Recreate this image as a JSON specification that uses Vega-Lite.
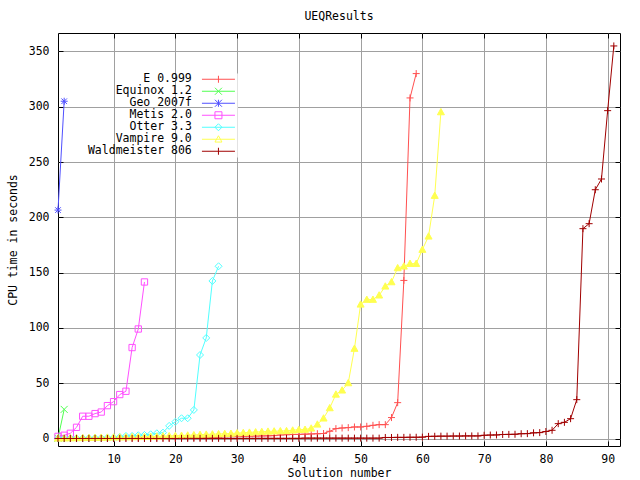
{
  "$schema": "https://vega.github.io/schema/vega-lite/v6.json",
  "width": 562,
  "height": 413,
  "autosize": "none",
  "padding": {"left": 58, "top": 33, "right": 20, "bottom": 34},
  "background": "white",
  "config": {"view": {"stroke": "black", "strokeWidth": 1}, "font": "DejaVu Sans Mono"},
  "title": {"text": "UEQResults", "font": "DejaVu Sans Mono", "fontSize": 11.5, "fontWeight": "normal", "anchor": "middle", "offset": 10, "color": "black"},
  "datasets": {
    "all": [
      {"s":"E 0.999","n":1,"v":0.2},{"s":"E 0.999","n":2,"v":0.2},{"s":"E 0.999","n":3,"v":0.3},{"s":"E 0.999","n":4,"v":0.3},{"s":"E 0.999","n":5,"v":0.3},{"s":"E 0.999","n":6,"v":0.4},{"s":"E 0.999","n":7,"v":0.4},{"s":"E 0.999","n":8,"v":0.4},{"s":"E 0.999","n":9,"v":0.5},{"s":"E 0.999","n":10,"v":0.5},
      {"s":"E 0.999","n":11,"v":0.5},{"s":"E 0.999","n":12,"v":0.6},{"s":"E 0.999","n":13,"v":0.6},{"s":"E 0.999","n":14,"v":0.6},{"s":"E 0.999","n":15,"v":0.7},{"s":"E 0.999","n":16,"v":0.7},{"s":"E 0.999","n":17,"v":0.7},{"s":"E 0.999","n":18,"v":0.8},{"s":"E 0.999","n":19,"v":0.8},{"s":"E 0.999","n":20,"v":0.8},
      {"s":"E 0.999","n":21,"v":0.9},{"s":"E 0.999","n":22,"v":0.9},{"s":"E 0.999","n":23,"v":1.0},{"s":"E 0.999","n":24,"v":1.0},{"s":"E 0.999","n":25,"v":1.1},{"s":"E 0.999","n":26,"v":1.2},{"s":"E 0.999","n":27,"v":1.4},{"s":"E 0.999","n":28,"v":1.8},{"s":"E 0.999","n":29,"v":1.9},{"s":"E 0.999","n":30,"v":2.0},
      {"s":"E 0.999","n":31,"v":2.1},{"s":"E 0.999","n":32,"v":2.2},{"s":"E 0.999","n":33,"v":2.3},{"s":"E 0.999","n":34,"v":2.4},{"s":"E 0.999","n":35,"v":2.5},{"s":"E 0.999","n":36,"v":2.7},{"s":"E 0.999","n":37,"v":3.3},{"s":"E 0.999","n":38,"v":3.5},{"s":"E 0.999","n":39,"v":3.7},{"s":"E 0.999","n":40,"v":3.8},
      {"s":"E 0.999","n":41,"v":4.0},{"s":"E 0.999","n":42,"v":4.2},{"s":"E 0.999","n":43,"v":4.4},{"s":"E 0.999","n":44,"v":4.6},{"s":"E 0.999","n":45,"v":6.6},{"s":"E 0.999","n":46,"v":9.0},{"s":"E 0.999","n":47,"v":9.6},{"s":"E 0.999","n":48,"v":9.9},{"s":"E 0.999","n":49,"v":10.5},{"s":"E 0.999","n":50,"v":10.5},
      {"s":"E 0.999","n":51,"v":11.1},{"s":"E 0.999","n":52,"v":12.0},{"s":"E 0.999","n":53,"v":12.6},{"s":"E 0.999","n":54,"v":12.6},{"s":"E 0.999","n":55,"v":19.0},{"s":"E 0.999","n":56,"v":32.5},{"s":"E 0.999","n":57,"v":143},{"s":"E 0.999","n":58,"v":308},{"s":"E 0.999","n":59,"v":330},
      {"s":"Equinox 1.2","n":1,"v":0.3},{"s":"Equinox 1.2","n":2,"v":26.4},
      {"s":"Geo 2007f","n":1,"v":206.6},{"s":"Geo 2007f","n":2,"v":305},
      {"s":"Metis 2.0","n":1,"v":2},{"s":"Metis 2.0","n":2,"v":3},{"s":"Metis 2.0","n":3,"v":4.8},{"s":"Metis 2.0","n":4,"v":10.2},{"s":"Metis 2.0","n":5,"v":20.2},{"s":"Metis 2.0","n":6,"v":20.2},{"s":"Metis 2.0","n":7,"v":22.6},{"s":"Metis 2.0","n":8,"v":24},{"s":"Metis 2.0","n":9,"v":29.8},{"s":"Metis 2.0","n":10,"v":33.4},{"s":"Metis 2.0","n":11,"v":39.8},{"s":"Metis 2.0","n":12,"v":42.8},{"s":"Metis 2.0","n":13,"v":82.3},{"s":"Metis 2.0","n":14,"v":99.1},{"s":"Metis 2.0","n":15,"v":141.6},
      {"s":"Otter 3.3","n":1,"v":0.2},{"s":"Otter 3.3","n":2,"v":0.2},{"s":"Otter 3.3","n":3,"v":0.3},{"s":"Otter 3.3","n":4,"v":0.3},{"s":"Otter 3.3","n":5,"v":0.4},{"s":"Otter 3.3","n":6,"v":0.5},{"s":"Otter 3.3","n":7,"v":0.6},{"s":"Otter 3.3","n":8,"v":0.7},{"s":"Otter 3.3","n":9,"v":0.9},{"s":"Otter 3.3","n":10,"v":0.9},
      {"s":"Otter 3.3","n":11,"v":1.5},{"s":"Otter 3.3","n":12,"v":2.4},{"s":"Otter 3.3","n":13,"v":2.4},{"s":"Otter 3.3","n":14,"v":3.0},{"s":"Otter 3.3","n":15,"v":3.3},{"s":"Otter 3.3","n":16,"v":3.9},{"s":"Otter 3.3","n":17,"v":4.8},{"s":"Otter 3.3","n":18,"v":5.4},{"s":"Otter 3.3","n":19,"v":11.5},{"s":"Otter 3.3","n":20,"v":15.2},
      {"s":"Otter 3.3","n":21,"v":18.4},{"s":"Otter 3.3","n":22,"v":18.4},{"s":"Otter 3.3","n":23,"v":25.9},{"s":"Otter 3.3","n":24,"v":75.6},{"s":"Otter 3.3","n":25,"v":91},{"s":"Otter 3.3","n":26,"v":142.5},{"s":"Otter 3.3","n":27,"v":155.8},
      {"s":"Vampire 9.0","n":1,"v":0.3},{"s":"Vampire 9.0","n":2,"v":0.4},{"s":"Vampire 9.0","n":3,"v":0.5},{"s":"Vampire 9.0","n":4,"v":0.6},{"s":"Vampire 9.0","n":5,"v":0.7},{"s":"Vampire 9.0","n":6,"v":0.8},{"s":"Vampire 9.0","n":7,"v":0.9},{"s":"Vampire 9.0","n":8,"v":1.0},{"s":"Vampire 9.0","n":9,"v":1.1},{"s":"Vampire 9.0","n":10,"v":1.2},
      {"s":"Vampire 9.0","n":11,"v":1.3},{"s":"Vampire 9.0","n":12,"v":1.4},{"s":"Vampire 9.0","n":13,"v":1.5},{"s":"Vampire 9.0","n":14,"v":1.6},{"s":"Vampire 9.0","n":15,"v":1.7},{"s":"Vampire 9.0","n":16,"v":1.8},{"s":"Vampire 9.0","n":17,"v":2.0},{"s":"Vampire 9.0","n":18,"v":2.2},{"s":"Vampire 9.0","n":19,"v":2.4},{"s":"Vampire 9.0","n":20,"v":2.6},
      {"s":"Vampire 9.0","n":21,"v":2.8},{"s":"Vampire 9.0","n":22,"v":3.0},{"s":"Vampire 9.0","n":23,"v":3.3},{"s":"Vampire 9.0","n":24,"v":3.6},{"s":"Vampire 9.0","n":25,"v":3.8},{"s":"Vampire 9.0","n":26,"v":4.0},{"s":"Vampire 9.0","n":27,"v":4.2},{"s":"Vampire 9.0","n":28,"v":4.4},{"s":"Vampire 9.0","n":29,"v":4.6},{"s":"Vampire 9.0","n":30,"v":5.0},
      {"s":"Vampire 9.0","n":31,"v":5.3},{"s":"Vampire 9.0","n":32,"v":5.6},{"s":"Vampire 9.0","n":33,"v":5.9},{"s":"Vampire 9.0","n":34,"v":6.2},{"s":"Vampire 9.0","n":35,"v":6.5},{"s":"Vampire 9.0","n":36,"v":6.7},{"s":"Vampire 9.0","n":37,"v":6.9},{"s":"Vampire 9.0","n":38,"v":7.0},{"s":"Vampire 9.0","n":39,"v":7.5},{"s":"Vampire 9.0","n":40,"v":8.1},
      {"s":"Vampire 9.0","n":41,"v":8.2},{"s":"Vampire 9.0","n":42,"v":9.3},{"s":"Vampire 9.0","n":43,"v":12.9},{"s":"Vampire 9.0","n":44,"v":18.4},{"s":"Vampire 9.0","n":45,"v":27.7},{"s":"Vampire 9.0","n":46,"v":40},{"s":"Vampire 9.0","n":47,"v":43.7},{"s":"Vampire 9.0","n":48,"v":50.3},{"s":"Vampire 9.0","n":49,"v":81.4},{"s":"Vampire 9.0","n":50,"v":121.4},
      {"s":"Vampire 9.0","n":51,"v":125.7},{"s":"Vampire 9.0","n":52,"v":125.7},{"s":"Vampire 9.0","n":53,"v":129.6},{"s":"Vampire 9.0","n":54,"v":137.7},{"s":"Vampire 9.0","n":55,"v":141.6},{"s":"Vampire 9.0","n":56,"v":154.3},{"s":"Vampire 9.0","n":57,"v":155.8},{"s":"Vampire 9.0","n":58,"v":158.2},{"s":"Vampire 9.0","n":59,"v":158.2},{"s":"Vampire 9.0","n":60,"v":170.9},
      {"s":"Vampire 9.0","n":61,"v":182.9},{"s":"Vampire 9.0","n":62,"v":219.7},{"s":"Vampire 9.0","n":63,"v":295.3},
      {"s":"Waldmeister 806","n":1,"v":0.1},{"s":"Waldmeister 806","n":2,"v":0.1},{"s":"Waldmeister 806","n":3,"v":0.1},{"s":"Waldmeister 806","n":4,"v":0.1},{"s":"Waldmeister 806","n":5,"v":0.1},{"s":"Waldmeister 806","n":6,"v":0.1},{"s":"Waldmeister 806","n":7,"v":0.1},{"s":"Waldmeister 806","n":8,"v":0.1},{"s":"Waldmeister 806","n":9,"v":0.1},{"s":"Waldmeister 806","n":10,"v":0.1},
      {"s":"Waldmeister 806","n":11,"v":0.1},{"s":"Waldmeister 806","n":12,"v":0.1},{"s":"Waldmeister 806","n":13,"v":0.1},{"s":"Waldmeister 806","n":14,"v":0.1},{"s":"Waldmeister 806","n":15,"v":0.1},{"s":"Waldmeister 806","n":16,"v":0.1},{"s":"Waldmeister 806","n":17,"v":0.1},{"s":"Waldmeister 806","n":18,"v":0.1},{"s":"Waldmeister 806","n":19,"v":0.1},{"s":"Waldmeister 806","n":20,"v":0.1},
      {"s":"Waldmeister 806","n":21,"v":0.2},{"s":"Waldmeister 806","n":22,"v":0.2},{"s":"Waldmeister 806","n":23,"v":0.2},{"s":"Waldmeister 806","n":24,"v":0.2},{"s":"Waldmeister 806","n":25,"v":0.2},{"s":"Waldmeister 806","n":26,"v":0.2},{"s":"Waldmeister 806","n":27,"v":0.2},{"s":"Waldmeister 806","n":28,"v":0.2},{"s":"Waldmeister 806","n":29,"v":0.2},{"s":"Waldmeister 806","n":30,"v":0.2},
      {"s":"Waldmeister 806","n":31,"v":0.2},{"s":"Waldmeister 806","n":32,"v":0.2},{"s":"Waldmeister 806","n":33,"v":0.2},{"s":"Waldmeister 806","n":34,"v":0.2},{"s":"Waldmeister 806","n":35,"v":0.2},{"s":"Waldmeister 806","n":36,"v":0.2},{"s":"Waldmeister 806","n":37,"v":0.2},{"s":"Waldmeister 806","n":38,"v":0.2},{"s":"Waldmeister 806","n":39,"v":0.2},{"s":"Waldmeister 806","n":40,"v":0.2},
      {"s":"Waldmeister 806","n":41,"v":0.4},{"s":"Waldmeister 806","n":42,"v":0.4},{"s":"Waldmeister 806","n":43,"v":0.4},{"s":"Waldmeister 806","n":44,"v":0.4},{"s":"Waldmeister 806","n":45,"v":0.4},{"s":"Waldmeister 806","n":46,"v":0.4},{"s":"Waldmeister 806","n":47,"v":0.4},{"s":"Waldmeister 806","n":48,"v":0.4},{"s":"Waldmeister 806","n":49,"v":0.4},{"s":"Waldmeister 806","n":50,"v":0.4},
      {"s":"Waldmeister 806","n":51,"v":0.4},{"s":"Waldmeister 806","n":52,"v":0.4},{"s":"Waldmeister 806","n":53,"v":0.4},{"s":"Waldmeister 806","n":54,"v":1.0},{"s":"Waldmeister 806","n":55,"v":1.0},{"s":"Waldmeister 806","n":56,"v":1.1},{"s":"Waldmeister 806","n":57,"v":1.1},{"s":"Waldmeister 806","n":58,"v":1.2},{"s":"Waldmeister 806","n":59,"v":1.2},{"s":"Waldmeister 806","n":60,"v":1.3},
      {"s":"Waldmeister 806","n":61,"v":2.0},{"s":"Waldmeister 806","n":62,"v":2.1},{"s":"Waldmeister 806","n":63,"v":2.2},{"s":"Waldmeister 806","n":64,"v":2.2},{"s":"Waldmeister 806","n":65,"v":2.3},{"s":"Waldmeister 806","n":66,"v":2.3},{"s":"Waldmeister 806","n":67,"v":2.4},{"s":"Waldmeister 806","n":68,"v":2.4},{"s":"Waldmeister 806","n":69,"v":2.4},{"s":"Waldmeister 806","n":70,"v":3.0},
      {"s":"Waldmeister 806","n":71,"v":3.2},{"s":"Waldmeister 806","n":72,"v":3.3},{"s":"Waldmeister 806","n":73,"v":3.7},{"s":"Waldmeister 806","n":74,"v":3.8},{"s":"Waldmeister 806","n":75,"v":3.9},{"s":"Waldmeister 806","n":76,"v":4.4},{"s":"Waldmeister 806","n":77,"v":4.5},{"s":"Waldmeister 806","n":78,"v":5.2},{"s":"Waldmeister 806","n":79,"v":5.4},{"s":"Waldmeister 806","n":80,"v":6.4},
      {"s":"Waldmeister 806","n":81,"v":7.5},{"s":"Waldmeister 806","n":82,"v":13.5},{"s":"Waldmeister 806","n":83,"v":14.7},{"s":"Waldmeister 806","n":84,"v":18},{"s":"Waldmeister 806","n":85,"v":35.2},{"s":"Waldmeister 806","n":86,"v":189.8},{"s":"Waldmeister 806","n":87,"v":194.3},{"s":"Waldmeister 806","n":88,"v":225},{"s":"Waldmeister 806","n":89,"v":234.7},{"s":"Waldmeister 806","n":90,"v":296.5},
      {"s":"Waldmeister 806","n":91,"v":355}
    ]
  },
  "data": {"name": "all"},
  "layer": [
    {
      "mark": {"type": "line", "strokeWidth": 1},
      "encoding": {
        "x": {"field": "n", "type": "quantitative", "scale": {"domain": [1, 92], "nice": false, "zero": false},
          "axis": {"orient": "bottom", "values": [10, 20, 30, 40, 50, 60, 70, 80, 90], "grid": true, "gridColor": "#a0a0a0", "gridWidth": 1, "domain": false, "ticks": true, "tickColor": "black", "tickSize": -5, "labelPadding": 12, "labelFont": "DejaVu Sans Mono", "labelFontSize": 11.5, "labelColor": "black", "title": "Solution number", "titleFont": "DejaVu Sans Mono", "titleFontSize": 11.5, "titleFontWeight": "normal", "titleColor": "black", "titlePadding": 3}},
        "y": {"field": "v", "type": "quantitative", "scale": {"domain": [-6.7, 366.7], "nice": false, "zero": false},
          "axis": {"orient": "left", "values": [0, 50, 100, 150, 200, 250, 300, 350], "grid": true, "gridColor": "#a0a0a0", "gridWidth": 1, "domain": false, "ticks": true, "tickColor": "black", "tickSize": -5, "labelPadding": 14, "labelFont": "DejaVu Sans Mono", "labelFontSize": 11.5, "labelColor": "black", "title": "CPU time in seconds", "titleFont": "DejaVu Sans Mono", "titleFontSize": 11.5, "titleFontWeight": "normal", "titleColor": "black", "titlePadding": 10}},
        "color": {"field": "s", "type": "nominal",
          "scale": {"domain": ["E 0.999", "Equinox 1.2", "Geo 2007f", "Metis 2.0", "Otter 3.3", "Vampire 9.0", "Waldmeister 806"], "range": ["#ff5050", "#50ff50", "#5050ff", "#ff50ff", "#50ffff", "#ffff50", "#a00000"]},
          "legend": null},
        "order": {"field": "n"}
      }
    },
    {
      "mark": {"type": "point", "filled": false, "size": 49, "strokeWidth": 1, "opacity": 1},
      "encoding": {
        "x": {"field": "n", "type": "quantitative",
          "axis": {"orient": "top", "values": [10, 20, 30, 40, 50, 60, 70, 80, 90], "grid": false, "domain": false, "labels": false, "ticks": true, "tickColor": "black", "tickSize": -5, "title": null}},
        "y": {"field": "v", "type": "quantitative",
          "axis": {"orient": "right", "values": [0, 50, 100, 150, 200, 250, 300, 350], "grid": false, "domain": false, "labels": false, "ticks": true, "tickColor": "black", "tickSize": -5, "title": null}},
        "color": {"field": "s", "type": "nominal", "legend": null},
        "shape": {"field": "s", "type": "nominal",
          "scale": {"domain": ["E 0.999", "Equinox 1.2", "Geo 2007f", "Metis 2.0", "Otter 3.3", "Vampire 9.0", "Waldmeister 806"], "range": ["M-1,0H1M0,-1V1", "M-1,-1L1,1M-1,1L1,-1", "M-1,0H1M0,-1V1M-0.8,-0.8L0.8,0.8M-0.8,0.8L0.8,-0.8", "M-0.9,-0.9H0.9V0.9H-0.9Z", "M0,-1L1,0L0,1L-1,0Z", "M0,-1L1,0.8H-1Z", "M-1,0H1M0,-1V1"]},
          "legend": null},
        "fill": {"condition": {"test": "datum.s === 'Vampire 9.0'", "value": "#ffff50"}, "value": "transparent"}
      }
    },
    {
      "mark": {"type": "point", "filled": false, "size": 64, "strokeWidth": 1, "opacity": 0},
      "encoding": {
        "x": {"field": "n", "type": "quantitative", "axis": null},
        "y": {"field": "v", "type": "quantitative", "axis": null},
        "stroke": {"field": "s", "type": "nominal",
          "scale": {"domain": ["E 0.999", "Equinox 1.2", "Geo 2007f", "Metis 2.0", "Otter 3.3", "Vampire 9.0", "Waldmeister 806"], "range": ["#ff5050", "#50ff50", "#5050ff", "#ff50ff", "#50ffff", "#ffff50", "#a00000"]},
          "legend": {"orient": "none", "legendX": 154.7, "legendY": 40.5, "title": null, "padding": 0, "fillColor": "white", "rowPadding": -1, "symbolSize": 64, "symbolOpacity": 1, "symbolStrokeWidth": 1, "labelAlign": "right", "labelBaseline": "middle", "labelOffset": -32.4, "labelFont": "DejaVu Sans Mono", "labelFontSize": 11.5, "labelColor": "black"}},
        "shape": {"field": "s", "type": "nominal",
          "scale": {"domain": ["E 0.999", "Equinox 1.2", "Geo 2007f", "Metis 2.0", "Otter 3.3", "Vampire 9.0", "Waldmeister 806"], "range": ["M-4.125,0H4.125M0,-0.875V0.875", "M-4.125,0H4.125M-0.875,-0.875L0.875,0.875M-0.875,0.875L0.875,-0.875", "M-4.125,0H4.125M0,-0.875V0.875M-0.875,-0.875L0.875,0.875M-0.875,0.875L0.875,-0.875", "M-4.125,0H4.125M-0.875,-0.875H0.875V0.875H-0.875Z", "M-4.125,0H4.125M0,-0.875L0.875,0L0,0.875L-0.875,0Z", "M-4.125,0H4.125M0,-0.875L0.875,0.7H-0.875Z", "M-4.125,0H4.125M0,-0.875V0.875"]},
          "legend": {"orient": "none", "legendX": 154.7, "legendY": 40.5, "title": null, "padding": 0, "fillColor": "white", "rowPadding": -1, "symbolSize": 64, "symbolOpacity": 1, "symbolStrokeWidth": 1, "labelAlign": "right", "labelBaseline": "middle", "labelOffset": -32.4, "labelFont": "DejaVu Sans Mono", "labelFontSize": 11.5, "labelColor": "black"}}
      }
    }
  ],
  "resolve": {"axis": {"x": "independent", "y": "independent"}, "scale": {"shape": "independent", "stroke": "independent"}}
}
